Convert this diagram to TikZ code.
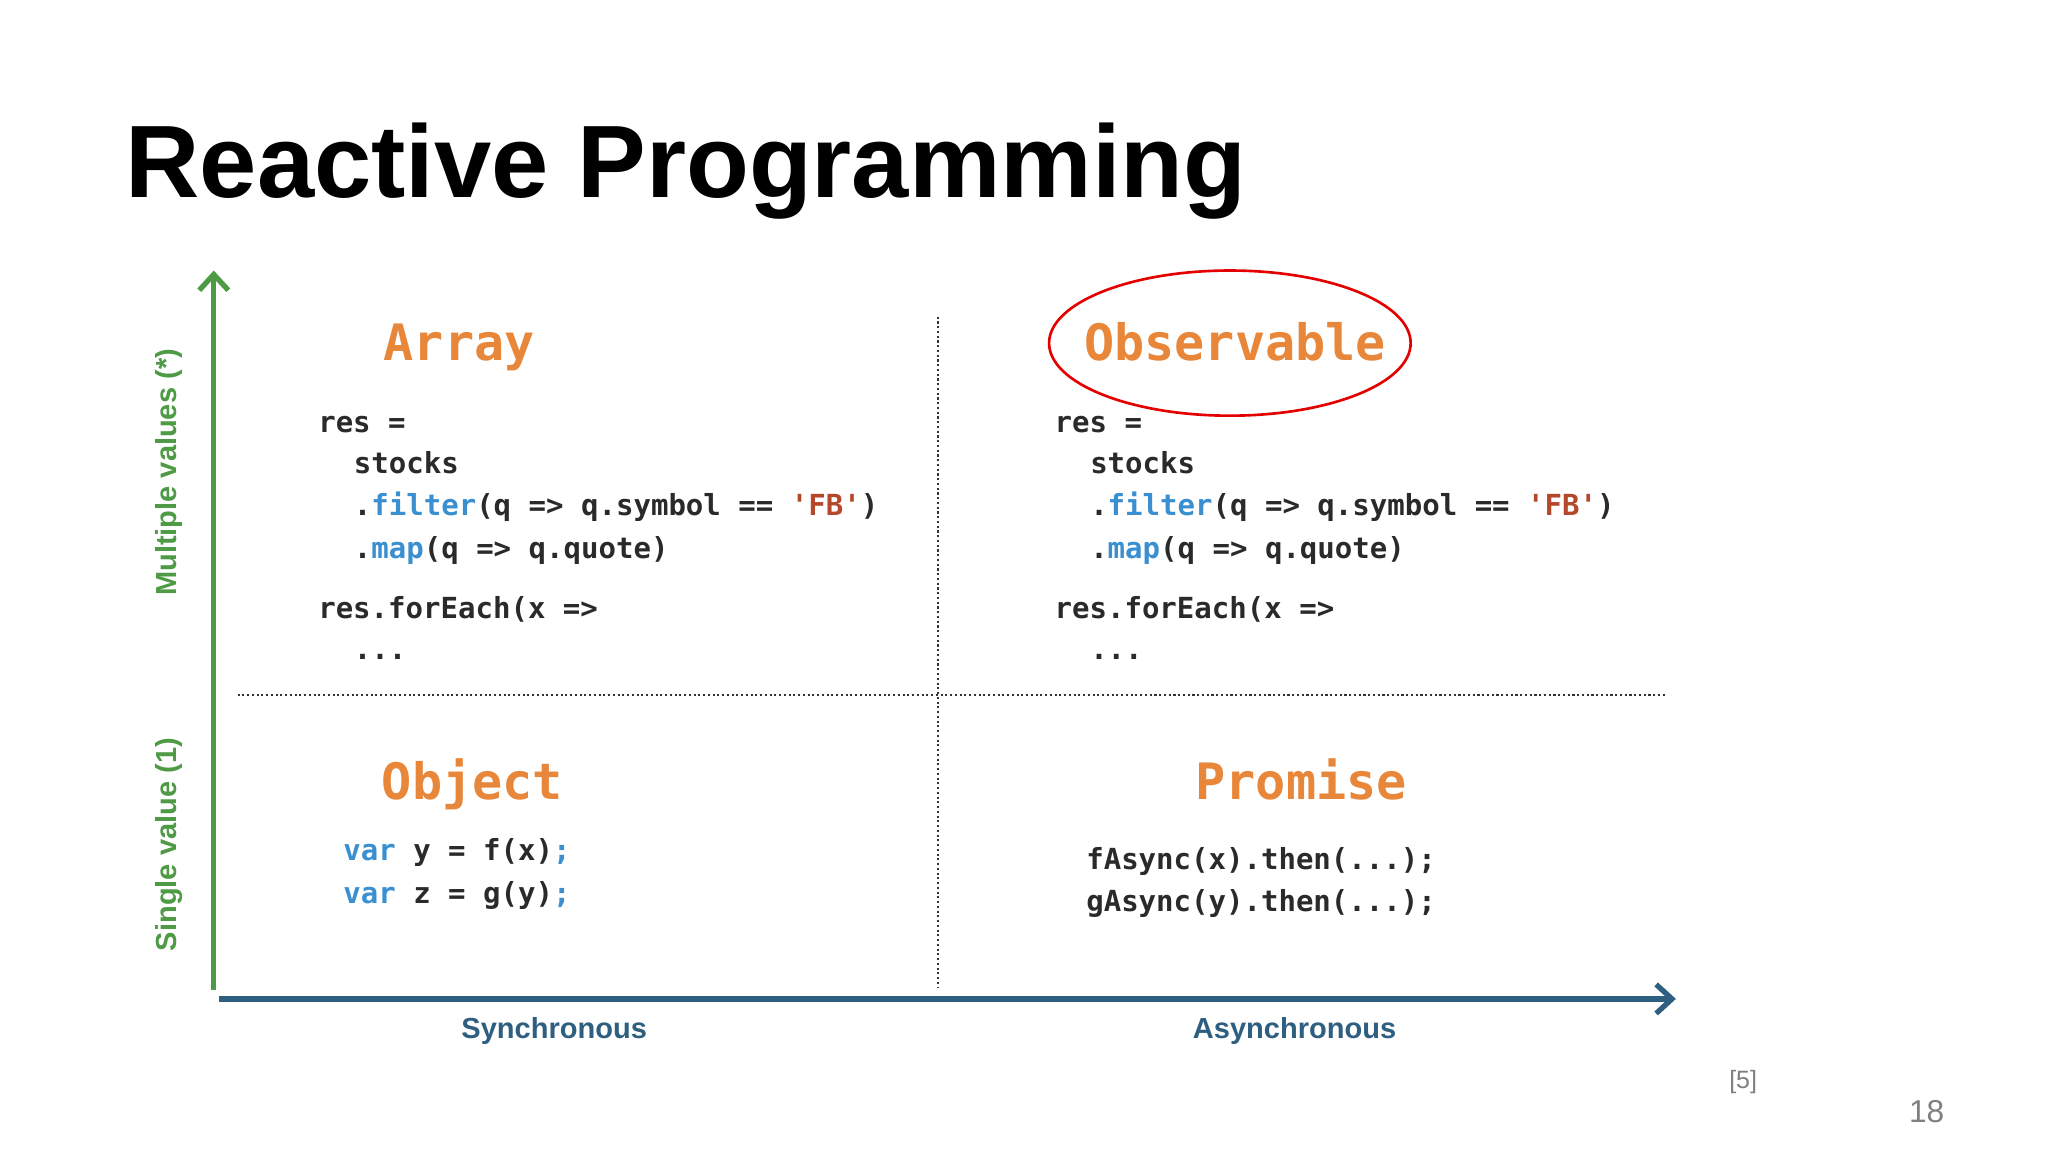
\documentclass[tikz,border=0pt]{standalone}
\usepackage{fontspec}
\setmainfont{Liberation Sans}
\setmonofont{DejaVu Sans Mono}
\usetikzlibrary{arrows.meta}
\definecolor{codec}{HTML}{2A2A2A}
\definecolor{kw}{HTML}{3A8FD0}
\definecolor{str}{HTML}{B5472A}
\definecolor{ttl}{HTML}{E8873A}
\definecolor{axg}{HTML}{4E9A45}
\definecolor{axb}{HTML}{2E5F80}
\newcommand{\kw}[1]{\textcolor{kw}{#1}}
\newcommand{\st}[1]{\textcolor{str}{#1}}
\begin{document}
\begin{tikzpicture}[x=1pt,y=-1pt,
  code/.style={anchor=base west,inner sep=0,font=\fontsize{22}{22}\selectfont\ttfamily\bfseries,text=codec},
  qtitle/.style={anchor=base,inner sep=0,font=\fontsize{38}{38}\selectfont\ttfamily\bfseries,text=ttl},
  axlab/.style={inner sep=0,font=\fontsize{22}{22}\selectfont\bfseries}]
\useasboundingbox[fill=white] (0,0) rectangle (1552,873);
\node[anchor=base west,inner sep=0,font=\fontsize{78}{78}\selectfont\bfseries] (title) at (95,150) {Reactive Programming};
% axes
\coordinate (vb) at (162,750); \coordinate (vt) at (162,205);
\draw[axg,line width=4pt,-{Straight Barb[length=12pt,width=22pt]}] (vb) -- (vt);
\coordinate (hl) at (166,757); \coordinate (hr) at (1270,757);
\draw[axb,line width=4pt,-{Straight Barb[length=12pt,width=22pt]}] (hl) -- (hr);
% dividers
\coordinate (dt) at (711,240); \coordinate (db) at (711,748);
\coordinate (dl) at (180,527); \coordinate (dr) at (1262,527);
\draw[black!80,line width=1.6pt,dotted] (dt) -- (db);
\draw[black!80,line width=1.6pt,dotted] (dl) -- (dr);
% titles
\node[qtitle] (arr) at (348,273) {Array};
\node[qtitle] (obs) at (936,273) {Observable};
\node[qtitle] (obj) at (358,606) {Object};
\node[qtitle] (pro) at (986,606) {Promise};
\draw[red!90!black,line width=2pt] (932,260) ellipse (137 and 55);
% code
\foreach \dx/\nm in {0/a,558/b}{
\node[code] (\nm1) at (241+\dx,328) {res =};
\node[code] (\nm2) at (268+\dx,359) {stocks};
\node[code] (\nm3) at (268+\dx,391) {.\kw{filter}(q => q.symbol == \st{'FB'})};
\node[code] (\nm4) at (268+\dx,423) {.\kw{map}(q => q.quote)};
\node[code] (\nm5) at (241+\dx,469) {res.forEach(x =>};
\node[code] (\nm6) at (268+\dx,500) {...};
}
\node[code] (o1) at (260,652) {\kw{var} y = f(x)\kw{;}};
\node[code] (o2) at (260,685) {\kw{var} z = g(y)\kw{;}};
\node[code] (p1) at (823,659) {fAsync(x).then(...);};
\node[code] (p2) at (823,691) {gAsync(y).then(...);};
% axis labels
\node[axlab,text=axg,rotate=90] (mv) at (128,358) {Multiple values (*)};
\node[axlab,text=axg,rotate=90] (sv) at (128,640) {Single value (1)};
\node[axlab,text=axb] (sy) at (420,781) {Synchronous};
\node[axlab,text=axb] (as) at (981,781) {Asynchronous};
\node[inner sep=0,font=\fontsize{19}{19}\selectfont,text=gray] (ref) at (1321,820) {[5]};
\node[inner sep=0,font=\fontsize{24}{24}\selectfont,text=gray] (pg) at (1460,842) {18};
\end{tikzpicture}
\end{document}
